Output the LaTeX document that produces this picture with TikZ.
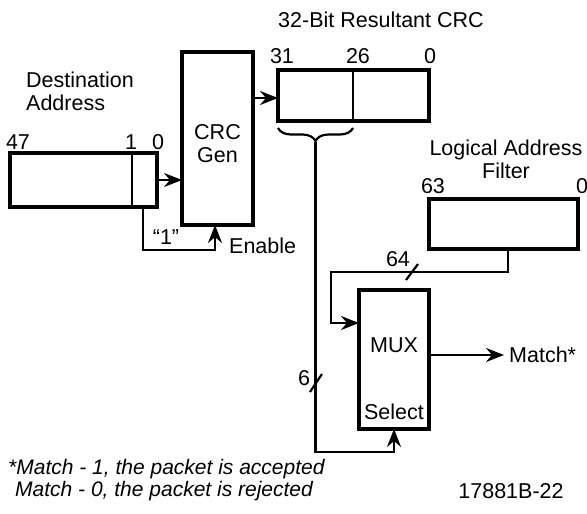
\documentclass[tikz,border=0pt]{standalone}
\usepackage{fontspec}
\setmainfont{Liberation Sans}
\usetikzlibrary{arrows.meta,decorations.pathreplacing,calc}
\begin{document}
\begin{tikzpicture}[x=1pt,y=-1pt,
  font=\fontsize{21.5}{23}\selectfont,
  regbox/.style={draw,line width=4.5pt,inner sep=0pt,outer sep=0pt},
  wire/.style={line width=2.2pt},
  arr/.style={wire,-{Stealth[length=18pt,width=14pt,inset=6pt]}},
  lbl/.style={inner sep=0pt},
  slash/.style={line width=2.2pt}]
\useasboundingbox (0,0) rectangle (587,514);

% boxes
\node[regbox,minimum width=147pt,minimum height=54pt] (dest) at (83.5,180) {};
\node[regbox,minimum width=71pt,minimum height=173pt] (crc) at (217.5,138.5) {};
\node[regbox,minimum width=151pt,minimum height=51pt] (res) at (353.5,95.5) {};
\node[regbox,minimum width=149pt,minimum height=50pt] (laf) at (503.5,224) {};
\node[regbox,minimum width=70pt,minimum height=139pt] (mux) at (394,359.5) {};

% dividers
\draw[wire] ([xshift=-25pt]dest.north east) -- ([xshift=-25pt]dest.south east);
\draw[wire] ([xshift=75pt]res.north west) -- ([xshift=75pt]res.south west);

% texts in boxes
\node[lbl,align=center] (crct) at (217.5,143.5) {CRC\\Gen};
\node[lbl] (muxt) at (394,345) {MUX};
\node[lbl] (selt) at (394,412) {Select};

% labels
\node[lbl,align=left,anchor=west] (destl) at (26,91) {Destination\\Address};
\node[lbl] (d47) at (18,142) {47};
\node[lbl] (d1) at (131,142) {1};
\node[lbl] (d0) at (158,142) {0};
\node[lbl] (rest) at (381,20) {32-Bit Resultant CRC};
\node[lbl] (r31) at (282,56) {31};
\node[lbl] (r26) at (358,56) {26};
\node[lbl] (r0) at (430,56) {0};
\node[lbl,align=center] (laft) at (506,159) {Logical Address\\Filter};
\node[lbl] (l63) at (433,186) {63};
\node[lbl] (l0) at (582,186) {0};
\node[lbl] (one) at (166,237) {``1''};
\node[lbl,anchor=west] (enable) at (229,246) {Enable};
\node[lbl] (n64) at (398,259) {64};
\node[lbl] (n6) at (304,378) {6};
\node[lbl,anchor=west] (match) at (509,355) {Match*};
\node[lbl,anchor=west,font=\fontsize{21}{23}\selectfont\itshape] (fn1) at (8,469) {*Match - 1, the packet is accepted};
\node[lbl,anchor=west,font=\fontsize{21}{23}\selectfont\itshape] (fn2) at (15,491) {Match - 0, the packet is rejected};
\node[lbl] (fig) at (511,491) {17881B-22};

% connectors
\draw[arr] (dest.east) -- (dest.east -| crc.west);
\draw[arr] ([yshift=-2.5pt]res.west -| crc.east) -- ([yshift=-2.5pt]res.west);
\coordinate (en) at (215,250);
\draw[arr] ([xshift=-14pt]dest.south east) |- (en) -- (en |- crc.south);

% brace
\draw[wire,decorate,decoration={brace,mirror,amplitude=13pt}]
  ([yshift=-7pt]res.south west) -- ([yshift=-7pt,xshift=75pt]res.south west);
\coordinate (bt) at (315.5,142);
\coordinate (sel) at (315.5,452);
\draw[arr] (bt) -- (sel) -| (mux.south);

% 64 path
\coordinate (m64) at (331,272);
\draw[arr] ([xshift=4.5pt]laf.south) |- (m64) |- ([yshift=36.5pt]mux.west);

% match output
\coordinate (mo) at (504,355);
\draw[arr] (mux.east |- mo) -- (mo);

% slashes
\draw[slash] (406,280) -- (418,264);
\draw[slash] (310,392) -- (322,374);
\end{tikzpicture}
\end{document}
